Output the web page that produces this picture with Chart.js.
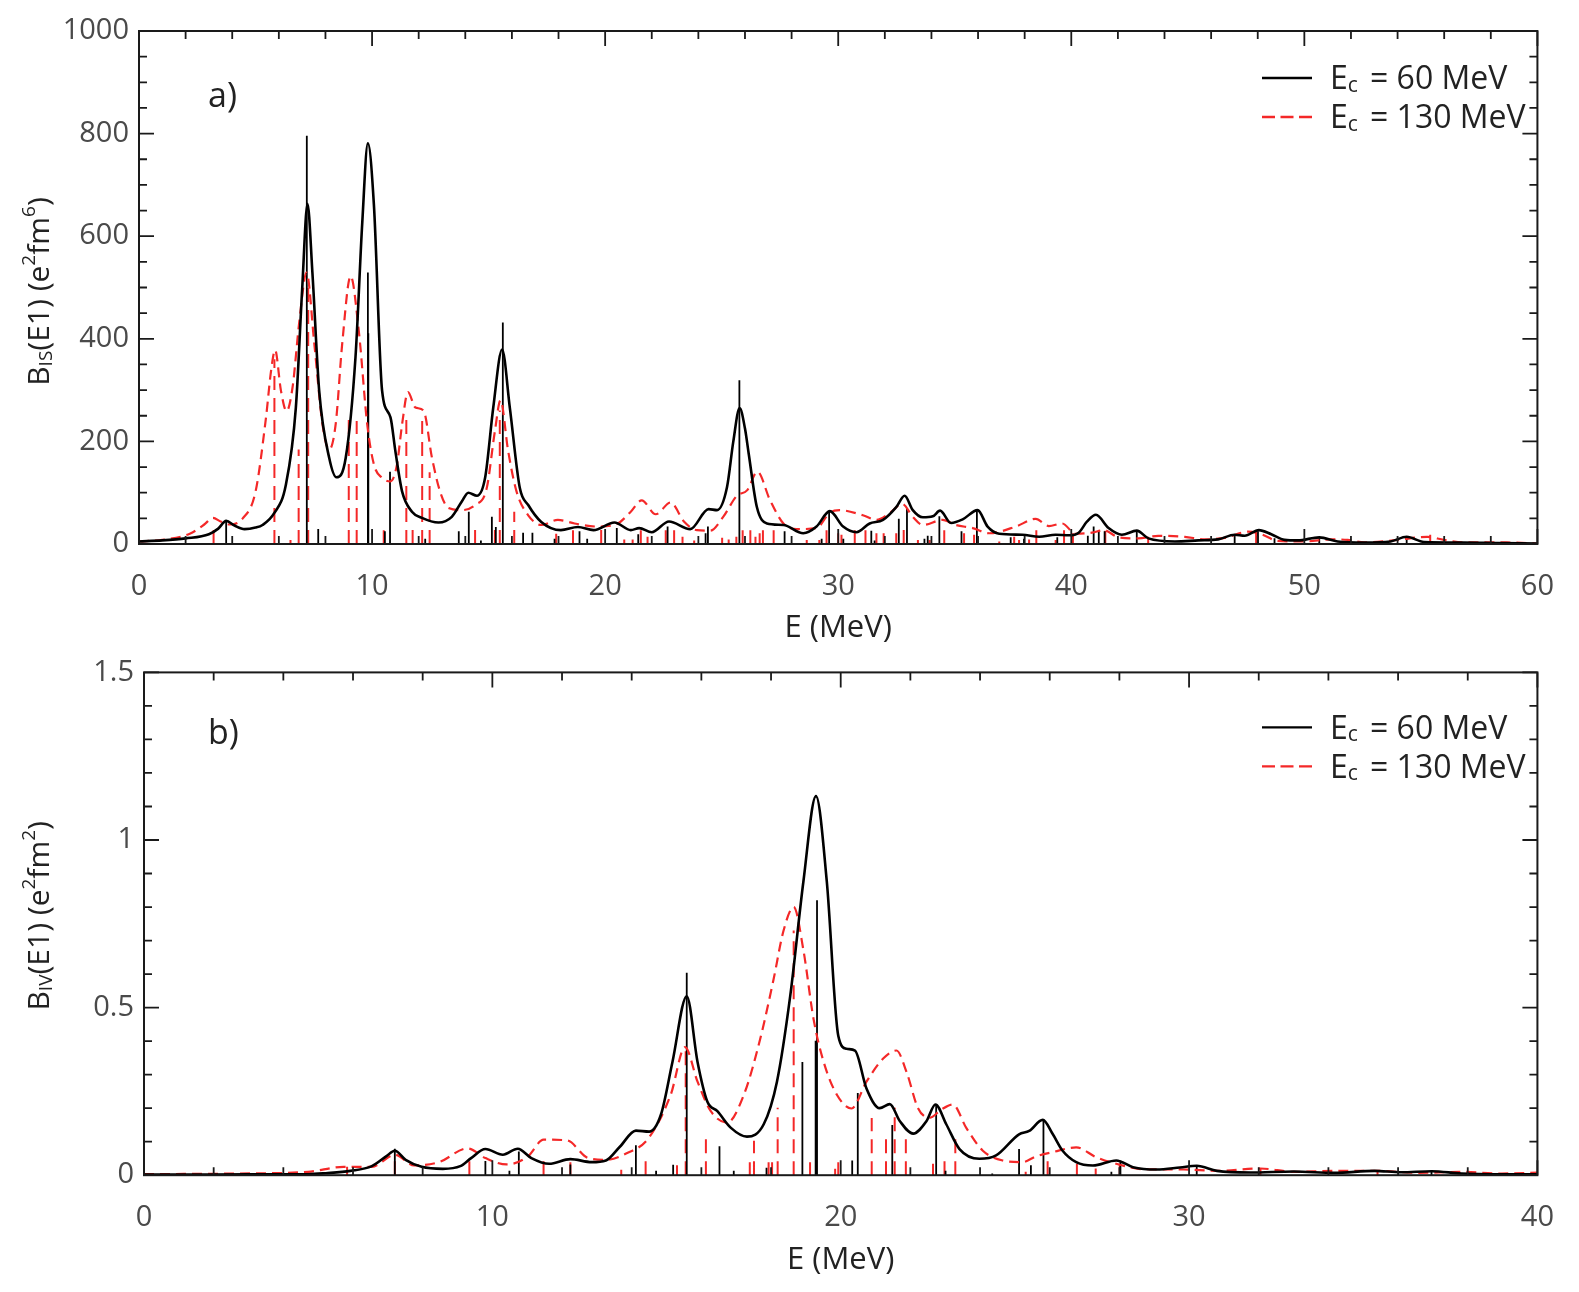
<!DOCTYPE html>
<html>
<head>
<meta charset="utf-8">
<script src="https://cdn.jsdelivr.net/npm/chart.js@4.4.1/dist/chart.umd.min.js"></script>
<style>
  html, body { margin: 0; padding: 0; background: #fff; }
  body { width: 1579px; height: 1292px; position: relative; overflow: hidden; }
  canvas { position: absolute; left: 0; }
  #chartA { top: 0; }
  #chartB { top: 645px; }
</style>
</head>
<body>
<canvas id="chartA" width="1579" height="645"></canvas>
<canvas id="chartB" width="1579" height="647"></canvas>
<script>
// ---- panel a) isoscalar B(E1), [E (MeV), B] ----
const isCurve60 = [[0,5],[1,7],[2,11],[3,19],[3.4,30],[3.74,45],[4.1,36],[4.53,29],[5.0,32],[5.3,37],[5.8,60],[6.3,115],[6.73,266],[7.0,496],[7.23,663],[7.44,529],[7.73,299],[8.16,168],[8.47,130],[8.87,168],[9.29,365],[9.58,627],[9.82,781],[10.08,660],[10.43,299],[10.79,247],[11.0,181],[11.29,102],[11.71,63],[12.14,51],[12.85,42],[13.42,53],[13.85,83],[14.13,100],[14.5,94],[14.85,129],[15.2,266],[15.58,379],[15.91,266],[16.34,109],[16.7,76],[17.26,43],[18.1,27],[18.83,33],[19.5,27],[20.4,42],[21.1,27],[21.46,31],[22.0,23],[22.74,44],[23.65,29],[24.44,68],[24.8,66],[25.23,111],[25.5,200],[25.77,265],[26.0,225],[26.16,176],[26.51,72],[26.94,40],[27.65,37],[28.5,21],[29.07,34],[29.64,64],[30.21,34],[30.78,23],[31.35,40],[31.92,47],[32.49,72],[32.85,94],[33.2,66],[33.63,52],[34.06,54],[34.37,65],[34.84,41],[35.34,48],[35.98,66],[36.41,34],[36.91,20],[37.9,18],[38.62,14],[39.33,18],[39.9,17],[40.32,22],[40.68,44],[41.06,57],[41.6,31],[42.17,18],[42.81,26],[43.31,11],[44.45,5],[45.45,7],[46.3,9],[47.01,18],[47.44,16],[48.05,27],[48.58,19],[49.15,8],[49.72,7],[50.64,13],[51.43,5],[52.57,3],[53.7,5],[54.39,14],[55.13,4],[56.84,3],[58.26,2],[60,1]];
const isCurve130 = [[0,5],[1,8],[2.18,20],[2.8,38],[3.17,51],[3.5,44],[3.9,38],[4.45,50],[5.0,102],[5.45,247],[5.67,339],[5.84,378],[6.09,299],[6.33,259],[6.59,306],[6.87,430],[7.19,529],[7.52,391],[7.87,234],[8.16,184],[8.44,234],[8.72,391],[9.08,522],[9.44,411],[9.79,234],[10.08,155],[10.43,129],[10.79,122],[11.07,155],[11.29,234],[11.54,296],[11.86,266],[12.21,260],[12.57,168],[12.92,102],[13.28,70],[13.85,66],[14.42,76],[14.92,109],[15.27,220],[15.51,280],[15.84,181],[16.2,102],[16.7,56],[17.26,37],[17.97,47],[18.69,40],[19.68,34],[20.54,40],[21.1,63],[21.57,85],[22.17,58],[22.81,81],[23.38,44],[23.94,27],[24.51,26],[25.08,54],[25.65,94],[26.1,105],[26.53,141],[27.07,86],[27.65,40],[28.22,29],[29.07,31],[29.64,61],[30.06,66],[31.06,56],[31.63,47],[32.2,60],[32.75,78],[33.2,53],[33.63,37],[34.48,47],[35.05,37],[35.77,31],[36.48,21],[37.62,34],[38.47,49],[39.04,35],[39.61,40],[40.18,20],[40.89,22],[41.39,27],[42.03,13],[42.88,11],[43.73,16],[44.87,14],[45.73,9],[46.58,12],[47.58,24],[48.15,19],[48.87,6],[50.01,5],[51.14,9],[51.86,8],[52.57,3],[54.0,8],[55.27,14],[55.98,8],[56.84,3],[58.7,3],[60,1]];
const isSticks60 = [[3.74,43],[7.2,796],[7.69,29],[9.82,529],[9.84,411],[10.55,25],[10.77,141],[12.28,10],[13.72,25],[14.15,63],[14.67,7],[15.14,53],[15.31,33],[15.61,432],[16.48,22],[16.88,22],[17.83,10],[18.9,25],[19.23,10],[20.5,31],[21.42,19],[22.68,34],[24.31,21],[24.41,34],[25.76,319],[27.7,25],[29.29,10],[29.61,64],[30.22,10],[31.42,26],[31.56,7],[32.6,49],[32.95,70],[33.7,10],[33.84,16],[34.34,54],[35.29,25],[35.95,66],[37.4,13],[37.97,10],[39.4,13],[40.71,16],[40.96,34],[41.18,26],[41.43,25],[42.81,25],[47.01,18],[48.01,25],[48.72,11],[50.64,11],[54.39,13]];
const isSticks130 = [[3.2,37],[5.81,360],[6.5,8],[6.85,184],[7.26,516],[9.0,255],[9.34,240],[10.5,27],[11.47,250],[11.74,43],[12.15,240],[12.47,140],[14.42,33],[15.27,37],[15.48,260],[16.1,63],[17.9,20],[18.62,27],[19.83,30],[20.82,9],[21.18,9],[21.53,27],[21.82,14],[22.6,27],[22.96,27],[23.32,14],[23.82,7],[25.02,12],[25.3,9],[25.63,14],[25.9,27],[26.23,27],[26.45,14],[26.63,21],[26.77,27],[27.23,27],[28.65,8],[29.19,8],[29.5,27],[30.0,21],[30.14,18],[30.71,27],[31.17,27],[31.64,21],[31.95,21],[32.49,21],[32.81,31],[33.42,8],[33.92,8],[34.55,27],[35.4,21],[35.83,18],[36.91,5],[37.55,14],[37.76,8],[38.19,9],[38.5,27],[39.33,8],[39.69,27],[40.07,21],[41.46,26],[43.3,14],[47.93,24],[55.4,18]];

// ---- panel b) isovector B(E1) ----
const ivCurve60 = [[0,0.002],[2,0.002],[4,0.003],[4.71,0.003],[5.22,0.006],[5.93,0.013],[6.54,0.027],[6.95,0.056],[7.2,0.073],[7.51,0.046],[7.97,0.025],[8.58,0.019],[9.08,0.027],[9.39,0.051],[9.8,0.078],[10.3,0.061],[10.73,0.079],[11.12,0.051],[11.63,0.034],[12.24,0.048],[12.85,0.039],[13.26,0.044],[13.66,0.085],[14.12,0.133],[14.5,0.13],[14.84,0.181],[15.17,0.338],[15.58,0.534],[15.89,0.338],[16.17,0.22],[16.46,0.191],[16.84,0.142],[17.31,0.115],[17.79,0.152],[18.17,0.279],[18.55,0.534],[18.93,0.877],[19.29,1.131],[19.6,0.877],[19.93,0.416],[20.17,0.377],[20.41,0.372],[20.74,0.259],[21.12,0.2],[21.41,0.212],[21.7,0.161],[22.08,0.124],[22.46,0.161],[22.72,0.211],[23.03,0.152],[23.41,0.078],[23.98,0.049],[24.46,0.059],[25.12,0.122],[25.41,0.132],[25.8,0.165],[26.09,0.122],[26.37,0.073],[26.76,0.039],[27.24,0.029],[27.91,0.044],[28.39,0.024],[29.07,0.017],[29.74,0.023],[30.22,0.028],[30.8,0.013],[31.76,0.008],[33.01,0.011],[34.17,0.007],[35.32,0.013],[36.09,0.009],[36.96,0.012],[37.82,0.005],[38.98,0.003],[40,0.003]];
const ivCurve130 = [[0,0.003],[2.68,0.005],[4.71,0.01],[5.73,0.025],[6.54,0.025],[7.2,0.061],[7.76,0.029],[8.47,0.039],[9.29,0.08],[9.8,0.051],[10.41,0.032],[11.02,0.056],[11.47,0.106],[12.14,0.104],[12.75,0.051],[13.26,0.046],[13.87,0.066],[14.48,0.11],[15.12,0.24],[15.53,0.382],[15.89,0.279],[16.27,0.191],[16.74,0.157],[17.22,0.24],[17.69,0.407],[18.07,0.583],[18.36,0.73],[18.65,0.8],[18.93,0.671],[19.22,0.466],[19.51,0.338],[19.89,0.24],[20.31,0.199],[20.74,0.279],[21.22,0.348],[21.6,0.372],[21.89,0.308],[22.22,0.2],[22.55,0.171],[22.89,0.196],[23.22,0.211],[23.6,0.142],[24.08,0.073],[24.65,0.044],[25.22,0.039],[25.6,0.056],[26.09,0.069],[26.76,0.083],[27.33,0.054],[27.91,0.034],[28.68,0.018],[29.84,0.017],[30.8,0.013],[32.05,0.02],[33.01,0.01],[34.17,0.013],[35.42,0.013],[36.57,0.007],[37.82,0.01],[38.98,0.005],[40,0.008]];
const ivSticks60 = [[7.2,0.079],[9.8,0.042],[10.49,0.013],[10.76,0.071],[12.24,0.032],[14.12,0.089],[14.7,0.013],[15.19,0.031],[15.58,0.604],[16.52,0.086],[16.93,0.013],[17.87,0.022],[18.9,0.338],[19.28,0.401],[19.32,0.82],[20.33,0.044],[20.49,0.245],[21.48,0.15],[22.74,0.211],[23.01,0.013],[24.35,0.005],[25.12,0.078],[25.46,0.03],[25.82,0.165],[27.77,0.01],[28.03,0.044],[30.22,0.026],[36.96,0.012]];
const ivSticks130 = [[5.83,0.025],[7.2,0.061],[9.34,0.044],[11.47,0.042],[12.24,0.039],[13.7,0.016],[14.4,0.043],[15.3,0.03],[15.55,0.382],[16.13,0.118],[17.39,0.039],[17.51,0.103],[17.93,0.039],[18.03,0.039],[18.19,0.201],[18.65,0.73],[19.12,0.039],[19.29,0.308],[19.84,0.019],[19.93,0.039],[20.89,0.171],[21.3,0.112],[21.55,0.201],[21.87,0.112],[22.65,0.034],[22.98,0.044],[23.29,0.122],[25.31,0.01],[25.94,0.044],[26.78,0.034],[27.32,0.02],[28.01,0.034],[32.05,0.02],[35.41,0.01]];

// ---- tick values ----
const aXTicks = [0, 10, 20, 30, 40, 50, 60];
const aXMinor = [2, 4, 6, 8, 12, 14, 16, 18, 22, 24, 26, 28, 32, 34, 36, 38, 42, 44, 46, 48, 52, 54, 56, 58];
const aYTicks = [0, 200, 400, 600, 800, 1000];
const aYMinor = [50, 100, 150, 250, 300, 350, 450, 500, 550, 650, 700, 750, 850, 900, 950];
const bXTicks = [0, 10, 20, 30, 40];
const bXMinor = [2, 4, 6, 8, 12, 14, 16, 18, 22, 24, 26, 28, 32, 34, 36, 38];
const bYTicks = [0, 0.5, 1, 1.5];
const bYMinor = [0.1, 0.2, 0.3, 0.4, 0.6, 0.7, 0.8, 0.9, 1.1, 1.2, 1.3, 1.4];

const legendLabels = ['60 MeV', '130 MeV'];

const FONT = "'Open Sans', 'Noto Sans', sans-serif";
const RED = '#f42828';

const toPts = arr => arr.map(([x, y]) => ({ x, y }));
// each stick: foot, top, then a gap
const toSticks = arr => arr.flatMap(([x, h]) => [{ x, y: 0 }, { x, y: h }, { x, y: null }]);

// texte avec indices / exposants : [texte, taille, decalage]
function drawRich(ctx, parts, x, y, center) {
  let w = 0;
  parts.forEach(p => { ctx.font = p[1] + 'px ' + FONT; w += ctx.measureText(p[0]).width; });
  let cx = center ? x - w / 2 : x;
  parts.forEach(p => {
    ctx.font = p[1] + 'px ' + FONT;
    ctx.fillText(p[0], cx, y + (p[2] || 0));
    cx += ctx.measureText(p[0]).width;
  });
}

// frame, inward ticks on 4 sides, titles, legend, panel label
const decorPlugin = {
  id: 'decor',
  afterDraw(chart, args, o) {
    const { ctx, chartArea: a, scales: { x, y } } = chart;
    ctx.save();
    ctx.strokeStyle = '#1a1a1a';
    ctx.lineWidth = 1.8;
    const tick = (px, len, horiz) => {
      ctx.beginPath();
      if (horiz) {
        ctx.moveTo(px, a.bottom); ctx.lineTo(px, a.bottom - len);
        ctx.moveTo(px, a.top); ctx.lineTo(px, a.top + len);
      } else {
        ctx.moveTo(a.left, px); ctx.lineTo(a.left + len, px);
        ctx.moveTo(a.right, px); ctx.lineTo(a.right - len, px);
      }
      ctx.stroke();
    };
    o.xMajor.forEach(v => tick(x.getPixelForValue(v), 15, true));
    o.xMinor.forEach(v => tick(x.getPixelForValue(v), 8, true));
    o.yMajor.forEach(v => tick(y.getPixelForValue(v), 15, false));
    o.yMinor.forEach(v => tick(y.getPixelForValue(v), 8, false));
    ctx.lineWidth = 2;
    ctx.strokeRect(a.left, a.top, a.right - a.left, a.bottom - a.top);

    ctx.fillStyle = '#222';
    ctx.textBaseline = 'middle';
    ctx.textAlign = 'left';
    // x title
    drawRich(ctx, [['E (MeV)', 31]], (a.left + a.right) / 2, a.bottom + o.xTitleOff, true);
    // y title (rotated)
    ctx.save();
    ctx.translate(40, (a.top + a.bottom) / 2 + o.yTitleShift);
    ctx.rotate(-Math.PI / 2);
    drawRich(ctx, o.yTitle, 0, 0, true);
    ctx.restore();
    // panel label
    ctx.font = '34px ' + FONT;
    ctx.fillText(o.panel, 208, a.top + o.panelOff);
    // legend
    const ly = [a.top + o.legendOff, a.top + o.legendOff + 39];
    ctx.lineWidth = 2.4;
    ctx.strokeStyle = '#000';
    ctx.beginPath(); ctx.moveTo(1262, ly[0]); ctx.lineTo(1312, ly[0]); ctx.stroke();
    ctx.strokeStyle = RED;
    ctx.setLineDash([13, 5.5]);
    ctx.beginPath(); ctx.moveTo(1262, ly[1]); ctx.lineTo(1312, ly[1]); ctx.stroke();
    ctx.setLineDash([]);
    legendLabels.forEach((t, i) => {
      drawRich(ctx, [['E', 32], ['c', 21, 6]], 1330, ly[i] + 2, false);
      drawRich(ctx, [['= ' + t, 32]], 1370, ly[i] + 2, false);
    });
    ctx.restore();
  }
};

function makeChart(id, d) {
  return new Chart(document.getElementById(id), {
    type: 'line',
    data: {
      datasets: [
        { data: toPts(d.c60), borderColor: '#000', borderWidth: 2.6, cubicInterpolationMode: 'monotone', pointRadius: 0 },
        { data: toPts(d.c130), borderColor: RED, borderWidth: 2.2, borderDash: [10, 6], cubicInterpolationMode: 'monotone', pointRadius: 0 },
        { data: toSticks(d.s60), borderColor: '#000', borderWidth: 1.8, pointRadius: 0, spanGaps: false },
        { data: toSticks(d.s130), borderColor: RED, borderWidth: 2, borderDash: [14, 8], pointRadius: 0, spanGaps: false }
      ]
    },
    options: {
      responsive: false,
      animation: false,
      devicePixelRatio: 1,
      layout: { padding: { top: d.padTop, right: 35, left: 0, bottom: 0 } },
      plugins: {
        legend: { display: false },
        tooltip: { enabled: false },
        decor: d.decor
      },
      scales: {
        x: {
          type: 'linear', min: d.xTicks[0], max: d.xTicks[d.xTicks.length - 1],
          grid: { display: false, drawTicks: false }, border: { display: false },
          afterBuildTicks: s => { s.ticks = d.xTicks.map(v => ({ value: v })); },
          afterFit: s => { s.height = d.xH; },
          ticks: { autoSkip: false, maxRotation: 0, padding: 25, color: '#4a4a4a', font: { family: FONT, size: 29 }, callback: v => String(v) }
        },
        y: {
          type: 'linear', min: d.yTicks[0], max: d.yTicks[d.yTicks.length - 1],
          grid: { display: false, drawTicks: false }, border: { display: false },
          afterBuildTicks: s => { s.ticks = d.yTicks.map(v => ({ value: v })); },
          afterFit: s => { s.width = d.yW; },
          ticks: { autoSkip: false, padding: 10, color: '#4a4a4a', font: { family: FONT, size: 29 }, callback: v => String(v) }
        }
      }
    },
    plugins: [decorPlugin]
  });
}

makeChart('chartA', {
  c60: isCurve60, c130: isCurve130, s60: isSticks60, s130: isSticks130,
  xTicks: aXTicks, yTicks: aYTicks, padTop: 31, xH: 101, yW: 139,
  decor: {
    xMajor: aXTicks, xMinor: aXMinor, yMajor: aYTicks, yMinor: aYMinor,
    xTitleOff: 84, yTitleShift: 4, panelOff: 66, legendOff: 47,
    panel: 'a)',
    yTitle: [['B', 30], ['IS', 19, 7], ['(E1) (e', 30], ['2', 19, -10], ['fm', 30], ['6', 19, -10], [')', 30]]
  }
});

makeChart('chartB', {
  c60: ivCurve60, c130: ivCurve130, s60: ivSticks60, s130: ivSticks130,
  xTicks: bXTicks, yTicks: bYTicks, padTop: 19.6, xH: 116.8, yW: 144,
  decor: {
    xMajor: bXTicks, xMinor: bXMinor, yMajor: bYTicks, yMinor: bYMinor,
    xTitleOff: 85, yTitleShift: -8, panelOff: 62, legendOff: 55,
    panel: 'b)',
    yTitle: [['B', 30], ['IV', 19, 7], ['(E1) (e', 30], ['2', 19, -10], ['fm', 30], ['2', 19, -10], [')', 30]]
  }
});
</script>
</body>
</html>
